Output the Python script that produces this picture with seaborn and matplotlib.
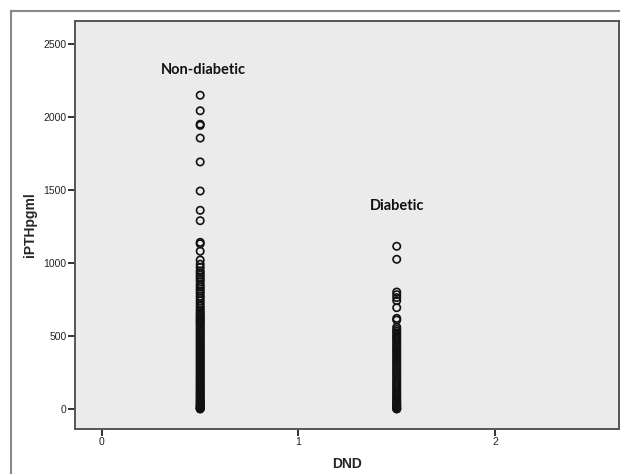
import matplotlib
matplotlib.use("Agg")
import matplotlib.pyplot as plt
import seaborn as sns
import pandas as pd
from matplotlib.patches import Rectangle

# ---- data ----
groups = ["Non-diabetic", "Diabetic"]
group_x = [0.5, 1.5]

non_diabetic = [2146, 2040, 1948, 1940, 1853, 1690, 1491, 1359, 1288, 1140, 1130,
                1079, 1019, 990, 968, 945, 930, 915, 900, 885, 870, 850, 835, 820,
                805, 790, 772, 758, 740, 722, 705, 690, 676, 662, 650, 640, 630,
                620, 610, 600, 590, 580, 568, 556, 545, 533, 522, 510, 498, 487,
                475, 464, 452, 441, 430, 418, 407, 396, 384, 373, 362, 350, 339,
                328, 316, 305, 294, 282, 271, 260, 249, 237, 226, 215, 204, 193,
                182, 171, 160, 150, 140, 130, 120, 110, 100, 91, 82, 73, 64, 56,
                48, 40, 33, 26, 20, 14, 9, 5, 2, 0]
diabetic = [1113, 1024, 800, 782, 762, 741, 693, 620, 608, 560, 545, 532, 520,
            505, 492, 480, 468, 455, 440, 426, 412, 398, 384, 370, 355, 340, 326,
            312, 298, 284, 270, 256, 242, 228, 214, 200, 187, 174, 161, 148, 135,
            122, 110, 98, 86, 75, 64, 54, 44, 35, 27, 19, 12, 6, 2, 0]

xticks = [0, 1, 2]
yticks = [0, 500, 1000, 1500, 2000, 2500]
label_pos = [(0.515, 2320), (1.5, 1390)]

df = pd.DataFrame({
    "DND": [group_x[0]] * len(non_diabetic) + [group_x[1]] * len(diabetic),
    "iPTHpgml": non_diabetic + diabetic,
})

sns.set_style("white")
plt.rcParams["font.family"] = ["Liberation Sans", "DejaVu Sans"]

fig = plt.figure(figsize=(6.2, 4.74), dpi=100)
ax = fig.add_axes([75 / 620, 1 - 429 / 474, (619 - 75) / 620, (429 - 21) / 474])
ax.set_facecolor("#ebebeb")

sns.scatterplot(data=df, x="DND", y="iPTHpgml", ax=ax, marker="o",
                facecolors="none", edgecolor="#111111", linewidth=1.2, s=28,
                legend=False)

ax.set_xlim(-0.137, 2.631)
ax.set_ylim(-137, 2654)
ax.set_xticks(xticks)
ax.set_yticks(yticks)
ax.tick_params(axis="both", direction="out", length=5, width=1.3,
               color="#222222", labelsize=7.5, labelcolor="#222222", pad=1,
               left=True, bottom=True)
for sp in ax.spines.values():
    sp.set_color("#555555")
    sp.set_linewidth(1.4)

ax.set_xlabel("DND", fontsize=10, fontweight="bold", labelpad=7)
ax.set_ylabel("iPTHpgml", fontsize=10, fontweight="bold", labelpad=5)

for name, (lx, ly) in zip(groups, label_pos):
    ax.text(lx, ly, name, ha="center", va="center", fontsize=10.5,
            fontweight="bold", family=["Lato", "DejaVu Sans"], color="#111111")

# outer frame (clipped by the image edges)
fig.patches.append(Rectangle((11 / 620, -0.1), 1.2, 1 - 11 / 474 + 0.1,
                             transform=fig.transFigure, fill=False,
                             edgecolor="#888888", linewidth=1.5))

fig.savefig("out.png", dpi=100)
